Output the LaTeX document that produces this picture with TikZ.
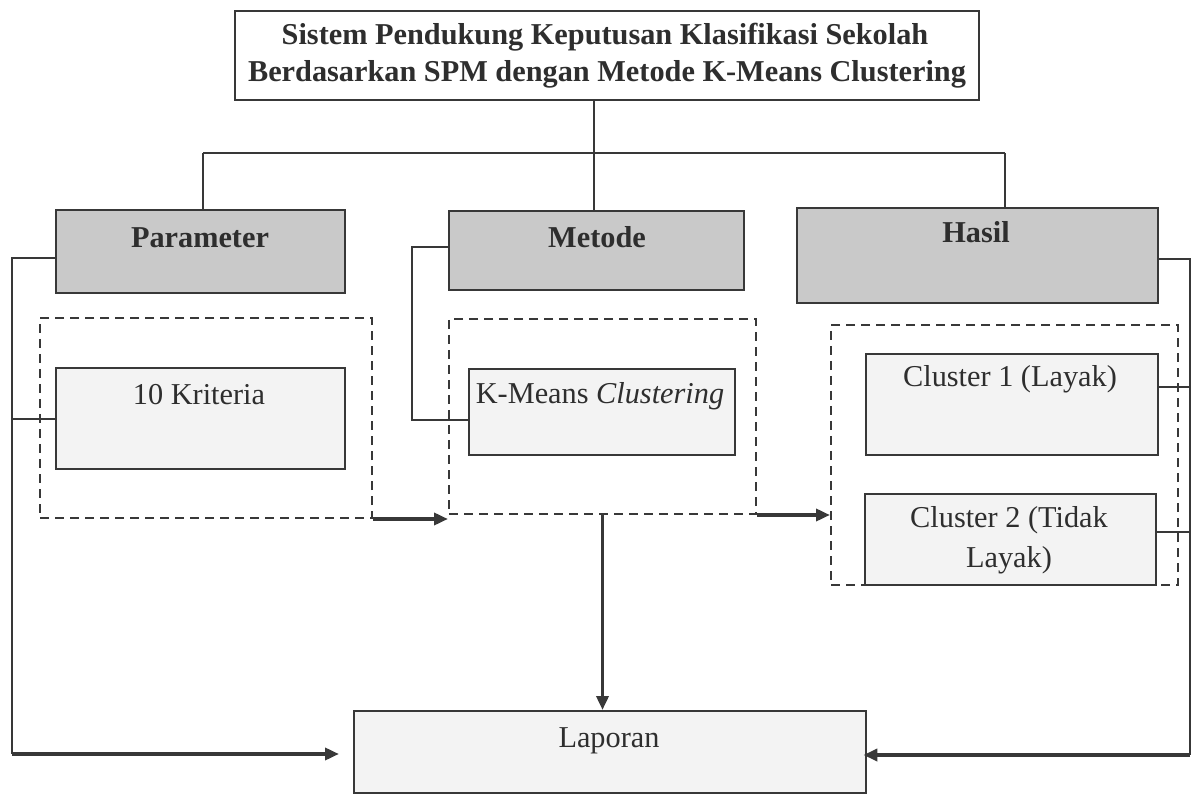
\documentclass[tikz,border=0pt]{standalone}
\usepackage{fontspec}
\setmainfont{Liberation Serif}
\usetikzlibrary{arrows.meta}
\definecolor{ink}{HTML}{383838}
\definecolor{txt}{HTML}{2E2E2E}
\definecolor{hdr}{HTML}{C9C9C9}
\definecolor{pale}{HTML}{F3F3F3}
\tikzset{
  box/.style={draw=ink, line width=2.4pt, fill=pale, anchor=north west, inner sep=0pt},
  hdrbox/.style={box, fill=hdr},
  dbox/.style={draw=ink, line width=2pt, dash pattern=on 9pt off 6pt, anchor=north west, inner sep=0pt},
  lbl/.style={text=txt, anchor=base, inner sep=0pt, font=\fontsize{30.3}{38}\selectfont},
  blbl/.style={lbl, font=\fontsize{30.3}{38}\selectfont\bfseries},
  conn/.style={draw=ink, line width=2pt},
  flow/.style={draw=ink, line width=3.6pt, -{Triangle[length=14pt,width=12pt]}},
}
\begin{document}
\begin{tikzpicture}[x=1pt,y=-1pt]
\useasboundingbox (0,0) rectangle (1195,794);
% title
\node[box, fill=white, minimum width=744pt, minimum height=89pt] (title) at (234,10) {};
\node[blbl] (t1) at (605,45) {Sistem Pendukung Keputusan Klasifikasi Sekolah};
\node[blbl] (t2) at (607,82) {Berdasarkan SPM dengan Metode K-Means Clustering};
% headers
\node[hdrbox, minimum width=289pt, minimum height=83pt] (param) at (55,209) {};
\node[blbl] (paramT) at (200,248) {Parameter};
\node[hdrbox, minimum width=295pt, minimum height=79pt] (metode) at (448,210) {};
\node[blbl] (metodeT) at (597,248) {Metode};
\node[hdrbox, minimum width=361pt, minimum height=95pt] (hasil) at (796,207) {};
\node[blbl] (hasilT) at (976,243) {Hasil};
% dashed groups
\node[dbox, minimum width=332pt, minimum height=200pt] (g1) at (39,317) {};
\node[dbox, minimum width=307pt, minimum height=195pt] (g2) at (448,318) {};
\node[dbox, minimum width=347pt, minimum height=260pt] (g3) at (830,324) {};
% inner boxes
\node[box, minimum width=289pt, minimum height=101pt] (krit) at (55,367) {};
\node[lbl] (kritT) at (199,405) {10 Kriteria};
\node[box, minimum width=266pt, minimum height=86pt] (kmeans) at (468,368) {};
\node[lbl] (kmeansT) at (600,403) {K-Means \textit{Clustering}};
\node[box, minimum width=292pt, minimum height=101pt] (c1) at (865,353) {};
\node[lbl] (c1T) at (1010,387) {Cluster 1 (Layak)};
\node[box, minimum width=291pt, minimum height=91pt] (c2) at (864,493) {};
\node[lbl] (c2Ta) at (1009,527) {Cluster 2 (Tidak};
\node[lbl] (c2Tb) at (1009,567) {Layak)};
% report
\node[box, minimum width=512pt, minimum height=82pt] (lap) at (353,710) {};
\node[lbl] (lapT) at (609,747) {Laporan};
% tree lines
\coordinate (tv) at (594,153);
\coordinate (hL) at (203,153);
\coordinate (hR) at (1005,153);
\draw[conn] (tv |- title.south) -- (tv) -- (tv |- metode.north);
\draw[conn] (hL) -- (hR);
\draw[conn] (hL) -- (hL |- param.north);
\draw[conn] (hR) -- (hR |- hasil.north);
% left feedback
\coordinate (L1) at (12,258);
\coordinate (L2) at (12,419);
\coordinate (L3) at (12,754);
\draw[conn] (L1 -| param.west) -- (L1) -- (L3);
\draw[conn] (L2) -- (L2 -| krit.west);
\draw[flow, shorten >=14pt] (L3) -- (L3 -| lap.west);
% metode link
\coordinate (m1) at (412,247);
\coordinate (m2) at (412,420);
\draw[conn] (m1 -| metode.west) -- (m1) -- (m2) -- (m2 -| kmeans.west);
% right feedback
\coordinate (r1) at (1190,259);
\coordinate (r2) at (1190,387);
\coordinate (r3) at (1190,532);
\coordinate (r4) at (1190,755);
\draw[conn] (r1 -| hasil.east) -- (r1) -- (r4);
\draw[conn] (r2 -| c1.east) -- (r2);
\draw[conn] (r3 -| c2.east) -- (r3);
\draw[flow, shorten >=-4pt] (r4) -- (r4 -| lap.east);
% flow arrows
\draw[flow] (g1.south east) -- (g1.south east -| g2.west);
\draw[flow] (g2.south east) -- (g2.south east -| g3.west);
\draw[flow] (g2.south) -- (g2.south |- lap.north);
\end{tikzpicture}
\end{document}
